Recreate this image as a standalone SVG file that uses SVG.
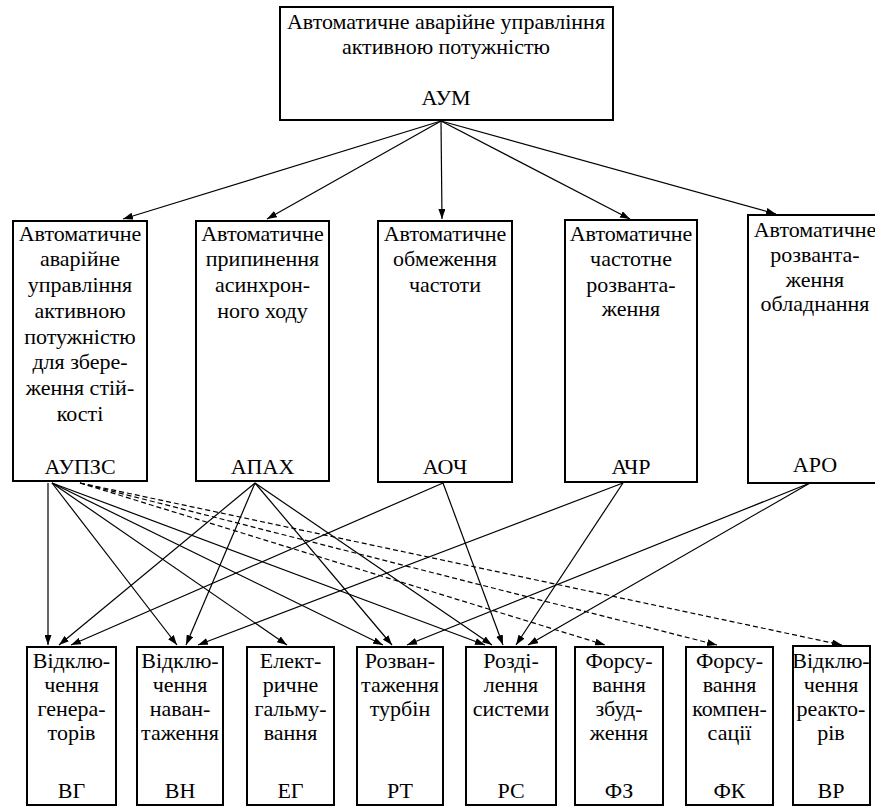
<svg xmlns="http://www.w3.org/2000/svg" width="875" height="807" viewBox="0 0 875 807">
<style>
.box{fill:#fff;stroke:#000;stroke-width:2}
.t{font-family:'Liberation Serif','Times New Roman',serif;font-size:22px;fill:#000;text-anchor:middle}
.c{stroke:#000;stroke-width:1.2;fill:none;marker-end:url(#ah)}
.d{stroke-dasharray:5,3}
</style>
<defs>
<marker id="ah" markerUnits="userSpaceOnUse" markerWidth="10" markerHeight="7" refX="10" refY="3.5" orient="auto">
<path d="M0,0 L10,3.5 L0,7 z" fill="#000"/>
</marker>
</defs>
<rect width="875" height="807" fill="#fff"/>

<g id="connectors">
<line class="c" x1="441" y1="121" x2="123" y2="219"/>
<line class="c" x1="441" y1="121" x2="267" y2="219"/>
<line class="c" x1="441" y1="121" x2="442" y2="219"/>
<line class="c" x1="441" y1="121" x2="630" y2="219"/>
<line class="c" x1="441" y1="121" x2="776" y2="214"/>

<line class="c" x1="48" y1="483" x2="48" y2="645"/>
<line class="c" x1="52" y1="483" x2="177" y2="645"/>
<line class="c" x1="52" y1="483" x2="287" y2="645"/>
<line class="c" x1="52" y1="483" x2="383" y2="645"/>
<line class="c" x1="52" y1="483" x2="485" y2="645"/>
<line class="c d" x1="80" y1="483" x2="605" y2="645"/>
<line class="c d" x1="80" y1="483" x2="717" y2="645"/>
<line class="c d" x1="80" y1="483" x2="842" y2="645"/>

<line class="c" x1="255" y1="483" x2="59" y2="645"/>
<line class="c" x1="255" y1="483" x2="186" y2="645"/>
<line class="c" x1="255" y1="483" x2="392" y2="645"/>
<line class="c" x1="255" y1="483" x2="492" y2="645"/>

<line class="c" x1="443" y1="483" x2="71" y2="645"/>
<line class="c" x1="443" y1="483" x2="503" y2="645"/>

<line class="c" x1="623" y1="483" x2="198" y2="645"/>
<line class="c" x1="623" y1="483" x2="516" y2="645"/>

<line class="c" x1="810" y1="483" x2="407" y2="645"/>
<line class="c" x1="810" y1="483" x2="528" y2="645"/>
</g>

<g id="AUM">
<rect class="box" x="280" y="7" width="333" height="113"/>
<text class="t" x="446" y="29">Автоматичне аварійне управління</text>
<text class="t" x="446" y="54">активною потужністю</text>
<text class="t" x="446" y="105">АУМ</text>
</g>

<g id="AUPZS">
<rect class="box" x="13" y="221" width="134" height="260"/>
<text class="t" x="80" y="241">Автоматичне</text>
<text class="t" x="80" y="266">аварійне</text>
<text class="t" x="80" y="292">управління</text>
<text class="t" x="80" y="318">активною</text>
<text class="t" x="80" y="344">потужністю</text>
<text class="t" x="80" y="369">для збере-</text>
<text class="t" x="80" y="395">ження стій-</text>
<text class="t" x="80" y="421">кості</text>
<text class="t" x="80" y="474">АУПЗС</text>
</g>

<g id="APAX">
<rect class="box" x="196" y="221" width="133" height="260"/>
<text class="t" x="262.5" y="241">Автоматичне</text>
<text class="t" x="262.5" y="266">припинення</text>
<text class="t" x="262.5" y="292">асинхрон-</text>
<text class="t" x="262.5" y="318">ного ходу</text>
<text class="t" x="262.5" y="474">АПАХ</text>
</g>

<g id="AOCH">
<rect class="box" x="378" y="221" width="134" height="261"/>
<text class="t" x="445" y="241">Автоматичне</text>
<text class="t" x="445" y="266">обмеження</text>
<text class="t" x="445" y="292">частоти</text>
<text class="t" x="445" y="474">АОЧ</text>
</g>

<g id="ACHR">
<rect class="box" x="565" y="220" width="132" height="262"/>
<text class="t" x="631" y="241">Автоматичне</text>
<text class="t" x="631" y="266">частотне</text>
<text class="t" x="631" y="292">розванта-</text>
<text class="t" x="631" y="316">ження</text>
<text class="t" x="631" y="474">АЧР</text>
</g>

<g id="ARO">
<rect class="box" x="748" y="215" width="134" height="268"/>
<text class="t" x="815" y="237">Автоматичне</text>
<text class="t" x="815" y="262">розванта-</text>
<text class="t" x="815" y="287">ження</text>
<text class="t" x="815" y="311">обладнання</text>
<text class="t" x="815" y="472">АРО</text>
</g>

<g id="VG">
<rect class="box" x="27" y="647" width="89" height="158"/>
<text class="t" x="71.5" y="668">Відклю-</text>
<text class="t" x="71.5" y="692">чення</text>
<text class="t" x="71.5" y="716">генера-</text>
<text class="t" x="71.5" y="740">торів</text>
<text class="t" x="71.5" y="798">ВГ</text>
</g>

<g id="VN">
<rect class="box" x="137" y="647" width="86" height="158"/>
<text class="t" x="180" y="668">Відклю-</text>
<text class="t" x="180" y="692">чення</text>
<text class="t" x="180" y="716">наван-</text>
<text class="t" x="180" y="740">таження</text>
<text class="t" x="180" y="798">ВН</text>
</g>

<g id="EG">
<rect class="box" x="247" y="647" width="87" height="158"/>
<text class="t" x="290.5" y="668">Елект-</text>
<text class="t" x="290.5" y="692">ричне</text>
<text class="t" x="290.5" y="716">гальму-</text>
<text class="t" x="290.5" y="740">вання</text>
<text class="t" x="290.5" y="798">ЕГ</text>
</g>

<g id="RT">
<rect class="box" x="357" y="647" width="86" height="158"/>
<text class="t" x="400" y="668">Розван-</text>
<text class="t" x="400" y="692">таження</text>
<text class="t" x="400" y="716">турбін</text>
<text class="t" x="400" y="798">РТ</text>
</g>

<g id="RS">
<rect class="box" x="466" y="647" width="90" height="158"/>
<text class="t" x="511" y="668">Розді-</text>
<text class="t" x="511" y="692">лення</text>
<text class="t" x="511" y="716">системи</text>
<text class="t" x="511" y="798">РС</text>
</g>

<g id="FZ">
<rect class="box" x="575" y="647" width="88" height="158"/>
<text class="t" x="619" y="668">Форсу-</text>
<text class="t" x="619" y="692">вання</text>
<text class="t" x="619" y="716">збуд-</text>
<text class="t" x="619" y="740">ження</text>
<text class="t" x="619" y="798">ФЗ</text>
</g>

<g id="FK">
<rect class="box" x="686" y="647" width="87" height="158"/>
<text class="t" x="729.5" y="668">Форсу-</text>
<text class="t" x="729.5" y="692">вання</text>
<text class="t" x="729.5" y="716">компен-</text>
<text class="t" x="729.5" y="740">сації</text>
<text class="t" x="729.5" y="798">ФК</text>
</g>

<g id="VR">
<rect class="box" x="793" y="646" width="77" height="159"/>
<text class="t" x="831" y="668">Відклю-</text>
<text class="t" x="831" y="692">чення</text>
<text class="t" x="831" y="716">реакто-</text>
<text class="t" x="831" y="740">рів</text>
<text class="t" x="831" y="798">ВР</text>
</g>
</svg>
